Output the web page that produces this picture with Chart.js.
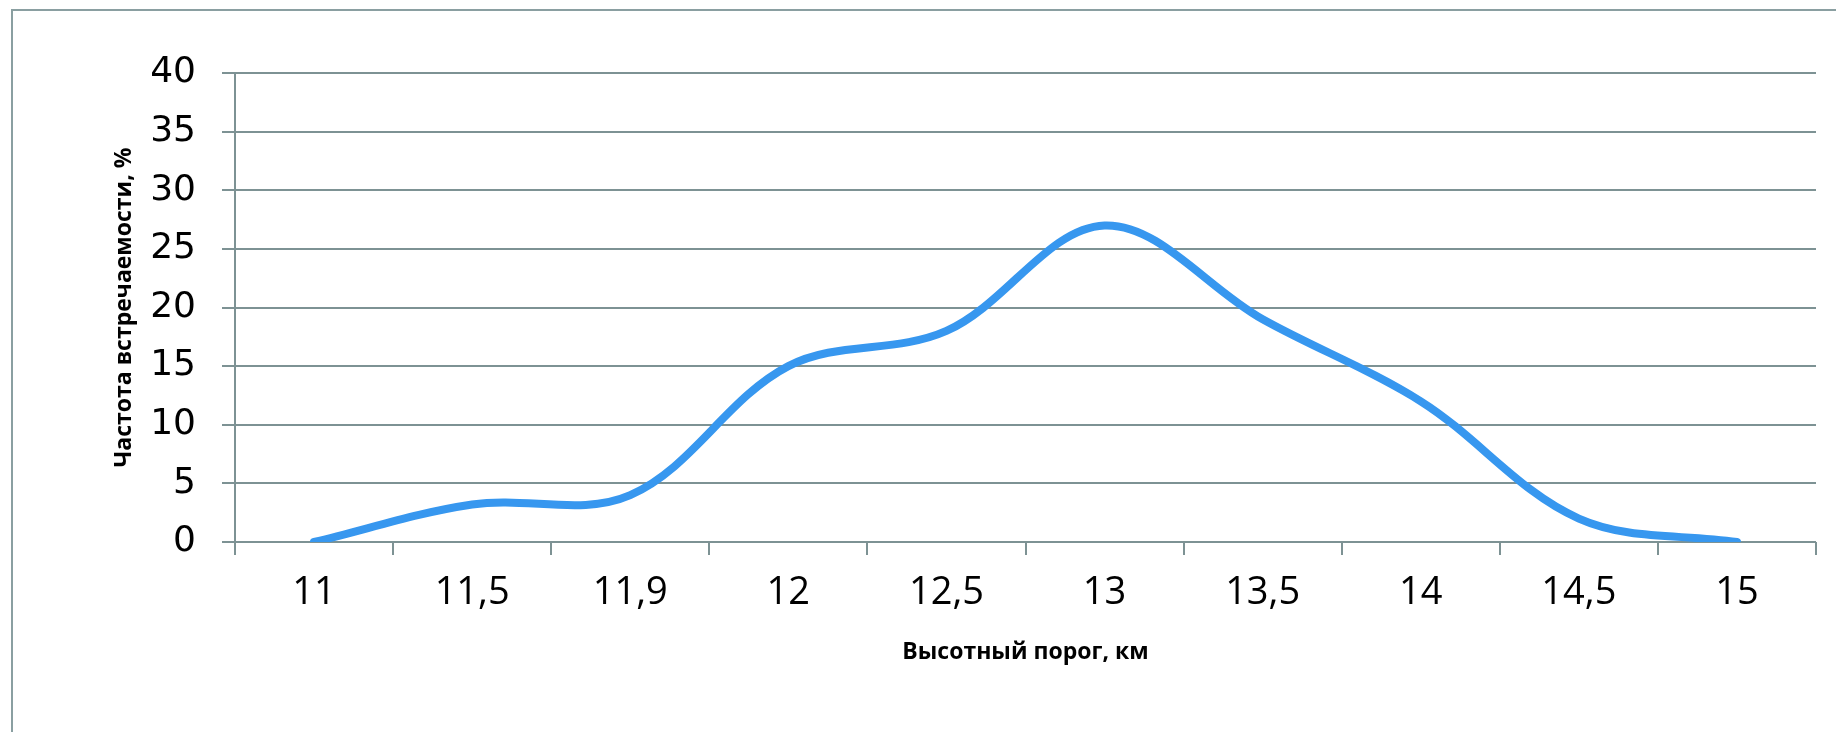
<!DOCTYPE html>
<html lang="ru">
<head>
<meta charset="utf-8">
<title>Частота встречаемости</title>
<script src="https://cdn.jsdelivr.net/npm/chart.js@4.4.1/dist/chart.umd.min.js"></script>
<style>
  html, body { margin: 0; padding: 0; background: #fff; }
  #wrap { width: 1836px; height: 732px; }
</style>
</head>
<body>
<div id="wrap"><canvas id="myChart" width="1836" height="732"></canvas></div>
<script>
// Категории по оси X (высотный порог, км)
const categories = ['11', '11,5', '11,9', '12', '12,5', '13', '13,5', '14', '14,5', '15']
// Частота встречаемости, %
const frequency = [0, 3.2, 4, 15, 18, 27, 19, 12, 2, 0]
// Подписи оси Y
const yTicks = [0, 5, 10, 15, 20, 25, 30, 35, 40]

const gridColor = '#7d9294'
const lineColor = '#3797ef'

// Рамка вокруг всей диаграммы (левая и верхняя стороны)
const frameBorder = {
  id: 'frameBorder',
  beforeDraw(chart) {
    const ctx = chart.ctx
    ctx.save()
    ctx.strokeStyle = '#8a9fa1'
    ctx.lineWidth = 2
    ctx.beginPath()
    ctx.moveTo(12, chart.height)
    ctx.lineTo(12, 10)
    ctx.lineTo(chart.width, 10)
    ctx.stroke()
    ctx.restore()
  }
}

const ctx = document.getElementById('myChart').getContext('2d')

new Chart(ctx, {
  type: 'line',
  data: {
    labels: categories,
    datasets: [
      {
        label: 'Частота',
        data: frequency,
        borderColor: lineColor,
        borderWidth: 8,
        borderCapStyle: 'round',
        borderJoinStyle: 'round',
        tension: 0.35,
        pointRadius: 0,
        fill: false
      }
    ]
  },
  options: {
    responsive: false,
    animation: false,
    layout: {
      padding: { left: 0, right: 20, top: 73, bottom: 0 }
    },
    plugins: {
      legend: { display: false },
      tooltip: { enabled: false }
    },
    scales: {
      x: {
        offset: true,
        afterFit(scale) { scale.height = 190 },
        grid: {
          offset: true,
          drawOnChartArea: false,
          drawTicks: true,
          tickLength: 13,
          color: gridColor,
          lineWidth: 2
        },
        border: { display: false },
        ticks: {
          color: '#000',
          padding: 15,
          maxRotation: 0,
          autoSkip: false,
          font: { family: 'Open Sans', size: 38 }
        },
        title: {
          display: true,
          text: 'Высотный порог, км',
          color: '#000',
          padding: { top: 0, bottom: 66 },
          font: { family: 'Open Sans', size: 23, weight: 'bold' }
        }
      },
      y: {
        min: 0,
        max: 40,
        afterFit(scale) { scale.width = 235 },
        afterBuildTicks(scale) {
          scale.ticks = yTicks.map(v => ({ value: v }))
        },
        grid: {
          color: gridColor,
          lineWidth: 2,
          tickLength: 13
        },
        border: { display: true, color: gridColor, width: 2 },
        ticks: {
          color: '#000',
          padding: 26,
          font: { family: 'DejaVu Sans', size: 36 }
        },
        title: {
          display: true,
          text: 'Частота встречаемости, %',
          color: '#000',
          padding: { top: 111, bottom: 0 },
          font: { family: 'Open Sans', size: 23, weight: 'bold' }
        }
      }
    }
  },
  plugins: [frameBorder]
})
</script>
</body>
</html>
